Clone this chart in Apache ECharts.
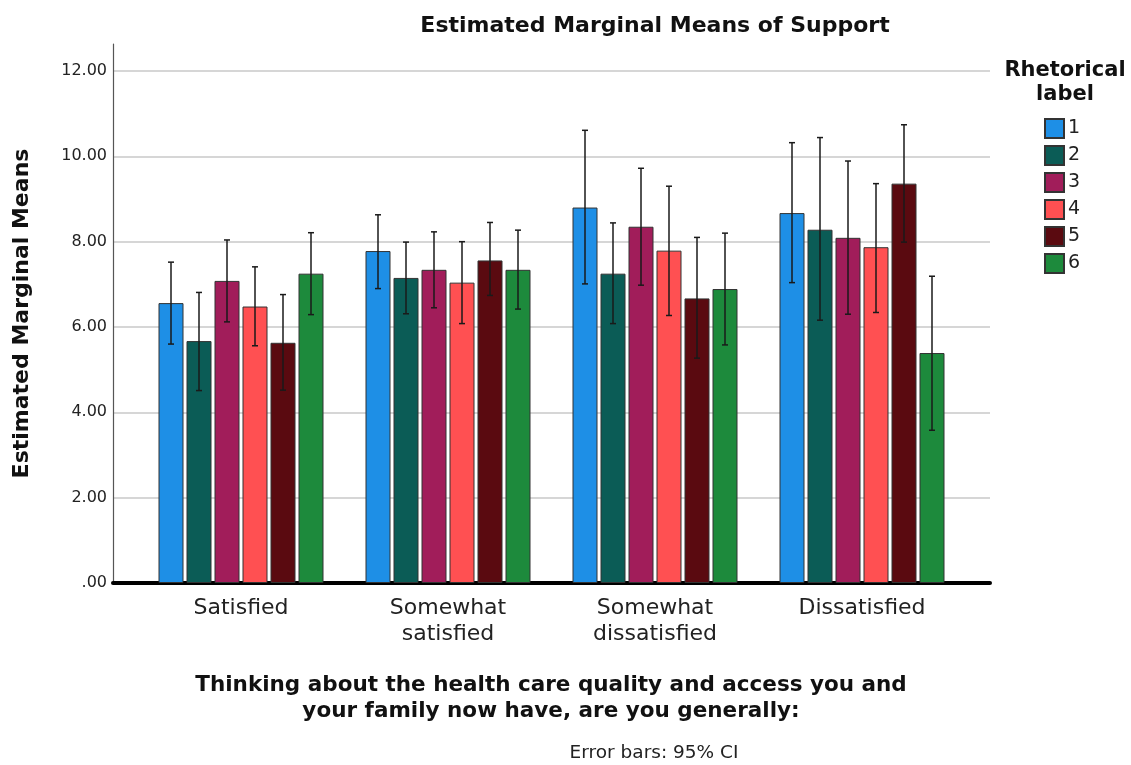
<!DOCTYPE html>
<html>
<head>
<meta charset="utf-8">
<script src="https://cdn.jsdelivr.net/npm/echarts@6/dist/echarts.min.js"></script>
<style>html,body{margin:0;padding:0;background:#fff}#c{width:1131px;height:765px}</style>
</head>
<body>
<div id="c"></div>
<script>
const categories = ['Satisfied', 'Somewhat\nsatisfied', 'Somewhat\ndissatisfied', 'Dissatisfied'];
const seriesNames = ['1', '2', '3', '4', '5', '6'];
const means1 = [6.56, 7.78, 8.80, 8.67];
const means2 = [5.67, 7.15, 7.25, 8.28];
const means3 = [7.08, 7.34, 8.35, 8.09];
const means4 = [6.48, 7.04, 7.79, 7.87];
const means5 = [5.63, 7.56, 6.67, 9.36];
const means6 = [7.25, 7.34, 6.89, 5.39];
const low1 = [5.60, 6.90, 7.01, 7.04];
const high1 = [7.52, 8.63, 10.61, 10.32];
const low2 = [4.51, 6.31, 6.08, 6.16];
const high2 = [6.81, 7.99, 8.44, 10.44];
const low3 = [6.12, 6.45, 6.98, 6.30];
const high3 = [8.04, 8.23, 9.72, 9.89];
const low4 = [5.56, 6.08, 6.27, 6.34];
const high4 = [7.41, 8.00, 9.30, 9.36];
const low5 = [4.52, 6.74, 5.27, 7.99];
const high5 = [6.76, 8.45, 8.10, 10.74];
const low6 = [6.29, 6.42, 5.58, 3.58];
const high6 = [8.21, 8.27, 8.20, 7.19];
const yTicks = [0, 2, 4, 6, 8, 10, 12];

const means = [means1, means2, means3, means4, means5, means6];
const lows = [low1, low2, low3, low4, low5, low6];
const highs = [high1, high2, high3, high4, high5, high6];
const colors = ['#1e8fe6', '#0b5c56', '#a11d5a', '#ff5052', '#5a0a10', '#1d8a3c'];

const BAR_W = 25, GAP = 3;
const FONT = 'DejaVu Sans';

const chart = echarts.init(document.getElementById('c'), null, {renderer: 'canvas'});

const barSeries = means.map((m, i) => ({
  type: 'bar', name: seriesNames[i], xAxisIndex: 1, yAxisIndex: 1,
  data: m, barWidth: BAR_W, barGap: (GAP / BAR_W * 100) + '%',
  itemStyle: {color: colors[i], borderColor: '#333', borderWidth: 1},
  emphasis: {disabled: true}, z: 2
}));

const errSeries = means.map((m, i) => ({
  type: 'custom', name: 'err' + i, xAxisIndex: 1, yAxisIndex: 1, z: 5,
  data: categories.map((c, k) => [k, lows[i][k], highs[i][k]]),
  renderItem: function (params, api) {
    const k = api.value(0);
    const center = api.coord([k, 0])[0];
    const x = center + (i - 2.5) * (BAR_W + GAP);
    const yl = api.coord([k, api.value(1)])[1];
    const yh = api.coord([k, api.value(2)])[1];
    const st = {stroke: '#1a1a1a', lineWidth: 1.5};
    return {type: 'group', children: [
      {type: 'line', shape: {x1: x, y1: yl, x2: x, y2: yh}, style: st},
      {type: 'line', shape: {x1: x - 3, y1: yh, x2: x + 3, y2: yh}, style: st},
      {type: 'line', shape: {x1: x - 3, y1: yl, x2: x + 3, y2: yl}, style: st}
    ]};
  },
  encode: {x: 0, y: [1, 2]},
  silent: true
}));

chart.setOption({
  animation: false,
  backgroundColor: '#fff',
  title: [
    {text: 'Estimated Marginal Means of Support', left: 655, top: 15, textAlign: 'center', padding: 0,
     textStyle: {fontFamily: FONT, fontSize: 22, fontWeight: 'bold', color: '#111'}},
    {text: 'Rhetorical\nlabel', left: 1065, top: 59, textAlign: 'center', padding: 0,
     textStyle: {fontFamily: FONT, fontSize: 21, fontWeight: 'bold', color: '#111', lineHeight: 24}},
    {text: 'Thinking about the health care quality and access you and\nyour family now have, are you generally:',
     left: 551, top: 672, textAlign: 'center', padding: 0,
     textStyle: {fontFamily: FONT, fontSize: 21.5, fontWeight: 'bold', color: '#111', lineHeight: 26}},
    {text: 'Error bars: 95% CI', left: 654, top: 743, textAlign: 'center', padding: 0,
     textStyle: {fontFamily: FONT, fontSize: 18.5, fontWeight: 'normal', color: '#222', lineHeight: 20}}
  ],
  legend: {
    data: seriesNames, orient: 'vertical', left: 1044, top: 118, padding: 0,
    itemWidth: 19, itemHeight: 19, itemGap: 6, icon: 'rect',
    textStyle: {fontFamily: FONT, fontSize: 19, color: '#222', lineHeight: 19, padding: [0, 0, 0, -1]},
    selectedMode: false
  },
  grid: [
    {left: 113, right: 141, top: 71, bottom: 182},
    {left: 137.5, right: 165.5, top: 71, bottom: 182},
    {left: 113, right: 141, top: 44, bottom: 182}
  ],
  xAxis: [
    {type: 'value', gridIndex: 0, min: 0, max: 1, axisLine: {show: true, onZero: false, lineStyle: {color: '#000', width: 4}},
     axisTick: {show: false}, axisLabel: {show: false}, splitLine: {show: false}},
    {type: 'category', gridIndex: 1, data: categories,
     axisLine: {show: false}, axisTick: {show: false},
     axisLabel: {fontFamily: FONT, fontSize: 22, color: '#222', lineHeight: 26, margin: 12}},
    {type: 'value', gridIndex: 2, min: 0, max: 1, show: false}
  ],
  yAxis: [
    {type: 'value', gridIndex: 0, min: yTicks[0], max: yTicks[yTicks.length - 1], interval: 2,
     axisLine: {show: false}, axisTick: {show: false},
     axisLabel: {fontFamily: FONT, fontSize: 16, color: '#222', margin: 6,
       formatter: v => v === 0 ? '.00' : v.toFixed(2)},
     splitLine: {show: true, lineStyle: {color: '#c8c8c8', width: 1.5}}},
    {type: 'value', gridIndex: 1, min: 0, max: 12, show: false, splitLine: {show: false}},
    {type: 'value', gridIndex: 2, min: 0, max: 1, name: 'Estimated Marginal Means', nameLocation: 'middle', nameGap: 80,
     nameTextStyle: {fontFamily: FONT, fontSize: 22, fontWeight: 'bold', color: '#111'},
     axisLine: {show: true, lineStyle: {color: '#555', width: 1.2}},
     axisTick: {show: false}, axisLabel: {show: false}, splitLine: {show: false}}
  ],
  series: barSeries.concat(errSeries)
});
</script>
</body>
</html>
